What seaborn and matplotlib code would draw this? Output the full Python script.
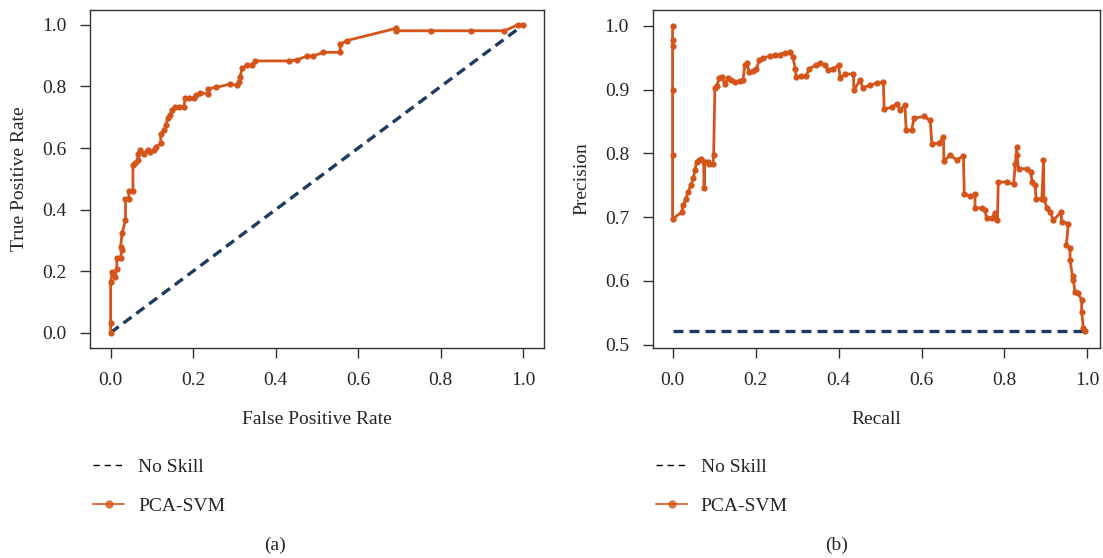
import matplotlib
matplotlib.use("Agg")
import matplotlib.pyplot as plt
from matplotlib.lines import Line2D
import numpy as np
import pandas as pd
import seaborn as sns

# ROC curve (a)
roc_fpr = [0.0, 0.0, 0.0, 0.004, 0.01, 0.015, 0.015, 0.024, 0.027, 0.024, 0.028, 0.036,
           0.036, 0.044, 0.044, 0.054, 0.054, 0.06, 0.066, 0.066, 0.072, 0.08, 0.09, 0.095,
           0.105, 0.111, 0.121, 0.122, 0.13, 0.133, 0.139, 0.143, 0.149, 0.155, 0.165, 0.177,
           0.181, 0.189, 0.203, 0.208, 0.216, 0.235, 0.235, 0.256, 0.29, 0.306, 0.31, 0.314,
           0.318, 0.33, 0.342, 0.35, 0.433, 0.452, 0.475, 0.491, 0.515, 0.556, 0.556, 0.572,
           0.692, 0.692, 0.775, 0.874, 0.954, 0.986, 0.998]
roc_tpr = [0.0, 0.031, 0.163, 0.197, 0.18, 0.208, 0.244, 0.244, 0.27, 0.279, 0.324, 0.365,
           0.435, 0.435, 0.46, 0.46, 0.544, 0.55, 0.56, 0.579, 0.593, 0.582, 0.595, 0.588,
           0.593, 0.604, 0.615, 0.647, 0.658, 0.674, 0.696, 0.707, 0.723, 0.732, 0.732, 0.734,
           0.761, 0.763, 0.761, 0.772, 0.779, 0.777, 0.793, 0.797, 0.808, 0.804, 0.815, 0.831,
           0.859, 0.869, 0.869, 0.883, 0.883, 0.886, 0.899, 0.899, 0.911, 0.911, 0.937, 0.949,
           0.989, 0.981, 0.981, 0.981, 0.981, 1.0, 1.0]

# Precision-recall curve (b)
pr_recall = [0.0, 0.0, 0.0, 0.0, 0.0, 0.0, 0.022, 0.026, 0.032, 0.038, 0.044, 0.05, 0.054,
             0.058, 0.064, 0.069, 0.075, 0.076, 0.078, 0.085, 0.089, 0.097, 0.099, 0.102,
             0.106, 0.112, 0.118, 0.126, 0.134, 0.142, 0.15, 0.162, 0.17, 0.174, 0.18, 0.184,
             0.194, 0.202, 0.209, 0.218, 0.234, 0.246, 0.258, 0.27, 0.283, 0.29, 0.296, 0.298,
             0.31, 0.322, 0.33, 0.346, 0.355, 0.367, 0.375, 0.387, 0.4, 0.404, 0.416, 0.436,
             0.437, 0.452, 0.458, 0.476, 0.492, 0.508, 0.51, 0.528, 0.54, 0.548, 0.56, 0.563,
             0.576, 0.582, 0.605, 0.621, 0.625, 0.641, 0.653, 0.654, 0.669, 0.685, 0.701,
             0.703, 0.717, 0.729, 0.729, 0.745, 0.753, 0.757, 0.769, 0.777, 0.783, 0.785,
             0.805, 0.822, 0.826, 0.83, 0.83, 0.834, 0.855, 0.863, 0.867, 0.874, 0.876, 0.89,
             0.894, 0.895, 0.902, 0.91, 0.918, 0.936, 0.938, 0.954, 0.949, 0.958, 0.958,
             0.964, 0.966, 0.97, 0.978, 0.986, 0.986, 0.99, 0.994]
pr_precision = [1.0, 0.978, 0.968, 0.9, 0.797, 0.697, 0.708, 0.719, 0.729, 0.74, 0.75, 0.761,
                0.774, 0.787, 0.789, 0.792, 0.787, 0.746, 0.787, 0.787, 0.783, 0.783, 0.797,
                0.902, 0.905, 0.918, 0.92, 0.909, 0.918, 0.915, 0.912, 0.914, 0.915, 0.938,
                0.941, 0.928, 0.93, 0.933, 0.946, 0.949, 0.953, 0.954, 0.955, 0.958, 0.959,
                0.951, 0.932, 0.92, 0.921, 0.922, 0.933, 0.939, 0.941, 0.938, 0.931, 0.933,
                0.938, 0.919, 0.924, 0.925, 0.899, 0.915, 0.903, 0.907, 0.91, 0.912, 0.87,
                0.872, 0.878, 0.868, 0.876, 0.836, 0.836, 0.855, 0.858, 0.852, 0.815, 0.816,
                0.825, 0.788, 0.797, 0.79, 0.796, 0.737, 0.733, 0.736, 0.715, 0.714, 0.711,
                0.698, 0.698, 0.706, 0.696, 0.755, 0.755, 0.752, 0.784, 0.81, 0.797, 0.776,
                0.776, 0.771, 0.755, 0.75, 0.729, 0.729, 0.789, 0.729, 0.715, 0.708, 0.695,
                0.708, 0.693, 0.69, 0.656, 0.651, 0.633, 0.607, 0.601, 0.583, 0.581, 0.57,
                0.552, 0.526, 0.521]

no_skill_x = [0.0, 1.0]
roc_no_skill = [0.0, 1.0]
pr_no_skill = [0.521, 0.521]

labels = ["No Skill", "PCA-SVM"]
captions = ["(a)", "(b)"]

orange = "#d4541a"
navy = "#1f3a60"

sns.set_style("ticks")
plt.rcParams["font.family"] = ["Liberation Serif", "DejaVu Serif"]
plt.rcParams["font.size"] = 14

fig = plt.figure(figsize=(11.03, 5.58), dpi=100)
ax1 = fig.add_axes([0.0816, 0.3763, 0.4116, 0.6066])
ax2 = fig.add_axes([0.5917, 0.3763, 0.4055, 0.6066])

roc = pd.DataFrame({"fpr": roc_fpr, "tpr": roc_tpr})
pr = pd.DataFrame({"recall": pr_recall, "precision": pr_precision})

sns.lineplot(x=no_skill_x, y=roc_no_skill, ax=ax1, color=navy, lw=2.4,
             linestyle=(0, (3, 1.8)))
sns.lineplot(data=roc, x="fpr", y="tpr", ax=ax1, sort=False, estimator=None,
             color=orange, lw=2, marker="o", markersize=4.5, markeredgewidth=0)

sns.lineplot(x=no_skill_x, y=pr_no_skill, ax=ax2, color=navy, lw=2.4,
             linestyle=(0, (3, 1.8)))
sns.lineplot(data=pr, x="recall", y="precision", ax=ax2, sort=False, estimator=None,
             color=orange, lw=2, marker="o", markersize=4.5, markeredgewidth=0)

ax1.set_xlim(-0.05, 1.05)
ax1.set_ylim(-0.05, 1.05)
ax2.set_xlim(-0.048, 1.03)
ax2.set_ylim(0.4948, 1.0256)
ax1.set_xticks(np.arange(0, 1.01, 0.2))
ax1.set_yticks(np.arange(0, 1.01, 0.2))
ax2.set_xticks(np.arange(0, 1.01, 0.2))
ax2.set_yticks(np.arange(0.5, 1.01, 0.1))

ax1.set_xlabel("False Positive Rate", labelpad=16)
ax1.set_ylabel("True Positive Rate", labelpad=10)
ax2.set_xlabel("Recall", labelpad=16)
ax2.set_ylabel("Precision", labelpad=10)

handles = [Line2D([], [], color="black", lw=1, linestyle=(0, (4.5, 3.5))),
           Line2D([], [], color=orange, lw=1.5, alpha=0.8, marker="o", markersize=6,
                  markeredgewidth=0)]

caption_x = [0.2493, 0.7588]
for ax, cap, x0, cx in [(ax1, captions[0], 0.0816, caption_x[0]),
                        (ax2, captions[1], 0.5917, caption_x[1])]:
    ax.tick_params(axis="both", direction="out", length=7, width=1, pad=10,
                   labelsize=14, color="#333333")
    for s in ax.spines.values():
        s.set_color("#333333")
        s.set_linewidth(1)
    if ax.get_legend() is not None:
        ax.get_legend().remove()
    fig.legend(handles, labels, loc="upper left", bbox_to_anchor=(x0 - 0.004, 0.192),
               frameon=False, fontsize=14, handlelength=1.6, handletextpad=0.7,
               labelspacing=1.1, borderaxespad=0, numpoints=1)
    fig.text(cx, 0.023, cap, ha="center", va="center", fontsize=14)

fig.savefig("out.png", dpi=100)
